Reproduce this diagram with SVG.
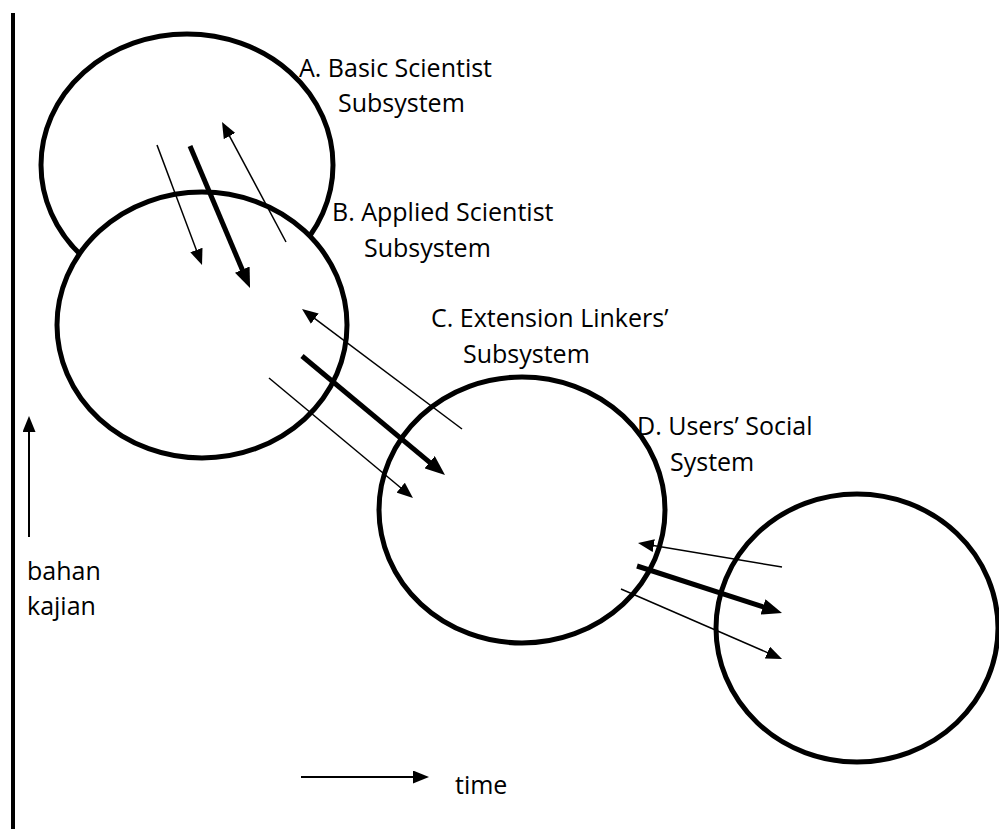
<svg xmlns="http://www.w3.org/2000/svg" width="999" height="829" viewBox="0 0 999 829">
<style>
.sys{fill:#fff;stroke:#000;stroke-width:5}
.thin{fill:none;stroke:#000;stroke-width:1.5;marker-end:url(#ah)}
.thick{fill:none;stroke:#000;stroke-width:5;marker-end:url(#ahb)}
.axis{fill:none;stroke:#000;stroke-width:2;marker-end:url(#ah)}
text{font-family:"Open Sans","Noto Sans","DejaVu Sans",sans-serif;font-size:25px;fill:#000}
</style>
<defs>
<marker id="ah" markerUnits="userSpaceOnUse" markerWidth="16" markerHeight="13" refX="2" refY="6.5" orient="auto"><path d="M0,0 L16,6.5 L0,13 z" fill="#000"/></marker>
<marker id="ahb" markerUnits="userSpaceOnUse" markerWidth="20" markerHeight="16" refX="4" refY="8" orient="auto"><path d="M0,0 L20,8 L0,16 z" fill="#000"/></marker>
</defs>
<rect width="999" height="829" fill="#fff"/>
<line x1="13" y1="13" x2="13" y2="829" stroke="#000" stroke-width="4"/>
<g id="nodeA"><ellipse class="sys" cx="187" cy="165" rx="146" ry="131"/><text x="299" y="77">A. Basic Scientist</text><text x="338" y="112">Subsystem</text></g>
<g id="nodeB"><ellipse class="sys" cx="202" cy="325" rx="145" ry="133"/><text x="332" y="221">B. Applied Scientist</text><text x="364" y="257">Subsystem</text></g>
<g id="nodeD-label"><text x="637" y="435">D. Users’ Social</text><text x="670" y="471">System</text></g>
<g id="nodeC"><ellipse class="sys" cx="522" cy="510" rx="143" ry="133"/><text x="431" y="327">C. Extension Linkers’</text><text x="463" y="363">Subsystem</text></g>
<g id="nodeD"><ellipse class="sys" cx="857" cy="628" rx="141" ry="134"/></g>
<g id="connectors">
<path class="thin" d="M157,145 L197.1,251.9"/>
<path class="thick" d="M190,146 L243.8,273.3"/>
<path class="thin" d="M286,242 L228.6,134.3"/>
<path class="thin" d="M462,429 L313.2,317.4"/>
<path class="thick" d="M302,356 L432.7,464.8"/>
<path class="thin" d="M269,378 L402.2,489"/>
<path class="thin" d="M782,567 L651.8,545.3"/>
<path class="thick" d="M637,566 L766.8,608.1"/>
<path class="thin" d="M621,589 L769.2,653.4"/>
<path class="axis" d="M29,537 L29,430"/>
<path class="axis" d="M301,777 L415,777"/>
</g>
<g id="labels">
<text x="27" y="580">bahan</text>
<text x="27" y="615">kajian</text>
<text x="455" y="794">time</text>
</g>
</svg>
